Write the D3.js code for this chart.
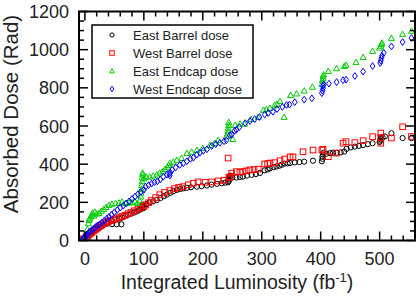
<!DOCTYPE html>
<html><head><meta charset="utf-8">
<script src="https://cdn.jsdelivr.net/npm/d3@7"></script>
<style>body{margin:0;background:#fff}svg{display:block}text{font-family:"Liberation Sans",Arial,Helvetica,sans-serif}</style>
</head><body>
<script>
// ---- data ----
const seriesNames = ["East Barrel dose","West Barrel dose","East Endcap dose","West Endcap dose"];
const xTicks = [0,100,200,300,400,500];
const yTicks = [0,200,400,600,800,1000,1200];

const eastBarrel = [[-5,0],[-3,5],[-2,10],[0,5],[1,15],[2,20],[3,12],[4,25],[6,30],[8,35],[10,38],[12,42],[15,48],[18,55],[21,60],[24,65],[27,72],[30,78],[33,84],
[38,88],[46,86],[54,85],[62,85],
[40,98],[46,104],[52,110],[58,115],[63,120],[68,128],[73,135],[78,140],[83,146],[88,152],[92,160],[96,165],[97,175],[98,182],[98,188],[100,170],[104,190],[110,200],[116,205],[122,212],[128,222],[134,232],[139,240],[145,250],[150,258],[156,265],[162,270],[167,273],[173,276],[180,279],[190,282],[198,285],[207,288],[215,293],[224,297],[232,300],[238,303],[243,305],[244,312],[245,320],[245,328],[246,335],[247,340],[250,330],[257,330],[263,333],[268,335],[275,340],[283,344],[290,348],[297,354],[305,368],[310,372],[314,378],[320,384],[325,388],[330,392],[334,397],[339,403],[344,404],[348,406],[356,409],[364,411],[372,413],[387,418],[402,415],[403,428],[403,440],[404,450],[405,460],[410,455],[416,458],[421,460],[427,460],[434,462],[440,466],[444,480],[451,488],[458,492],[465,496],[472,500],[480,505],[488,510],[500,516],[501,523],[502,530],[502,537],[505,540],[509,545],[520,562],[539,537],[554,536]];

const westBarrel = [[-5,0],[-3,8],[-2,3],[0,10],[1,5],[2,18],[3,25],[5,22],[7,30],[9,36],[12,42],[15,50],[18,58],[21,65],[24,72],[28,80],[32,88],[36,94],[40,100],[44,104],[48,108],[53,114],[58,120],[63,126],[68,132],[73,140],[78,147],[84,156],[90,165],[95,172],[100,180],[103,186],[108,198],[113,210],[120,225],[127,240],[135,252],[144,262],[152,272],[159,278],[166,282],[175,292],[184,300],[192,307],[204,305],[215,307],[226,312],[236,316],[243,432],[244,330],[246,334],[249,353],[257,361],[263,358],[268,361],[274,365],[280,370],[287,372],[294,374],[305,401],[310,403],[314,406],[322,408],[331,418],[339,427],[348,438],[353,438],[370,465],[387,474],[402,474],[404,478],[413,439],[427,458],[438,510],[443,518],[458,513],[472,523],[488,544],[502,510],[502,540],[502,563],[520,537],[539,596],[554,545]];

const eastEndcap = [[-5,0],[-3,5],[-2,10],[0,8],[1,20],[2,35],[4,60],[6,90],[7,107],[8,115],[10,125],[12,135],[13,145],[15,130],[17,150],[20,140],[24,144],[28,155],[32,165],[36,175],[41,186],[46,192],[52,196],[58,198],[63,203],[69,196],[75,198],[80,200],[85,203],[89,196],[93,210],[95,230],[95,250],[96,270],[96,290],[97,310],[97,330],[98,345],[98,355],[100,325],[104,334],[110,334],[116,340],[122,345],[127,355],[132,362],[136,375],[140,385],[142,395],[144,406],[150,412],[156,422],[164,432],[173,458],[181,465],[190,474],[200,484],[212,500],[220,511],[226,526],[240,545],[242,560],[243,575],[243,590],[244,605],[244,620],[251,531],[255,605],[263,612],[271,612],[282,636],[294,647],[303,684],[308,688],[314,694],[322,710],[326,715],[331,730],[338,647],[349,762],[359,770],[372,785],[386,805],[402,820],[403,838],[404,850],[404,862],[405,870],[413,888],[427,902],[440,914],[443,920],[460,935],[472,961],[488,993],[500,1010],[502,1020],[503,1030],[504,1036],[520,1061],[539,1082],[554,1098]];

const westEndcap = [[-5,0],[-3,10],[-2,5],[0,15],[1,25],[2,20],[3,30],[5,35],[7,42],[9,48],[12,55],[15,62],[18,70],[21,78],[25,85],[29,95],[33,105],[37,115],[41,125],[45,135],[50,148],[55,160],[60,172],[65,182],[70,194],[75,205],[80,218],[85,230],[90,243],[95,255],[100,265],[103,282],[108,290],[113,298],[118,305],[123,310],[128,320],[133,334],[139,345],[143,350],[144,340],[145,355],[148,370],[154,383],[161,396],[167,405],[173,415],[179,428],[184,434],[190,450],[195,460],[201,470],[207,478],[215,495],[222,505],[229,512],[236,520],[240,525],[246,552],[249,555],[254,575],[257,580],[262,594],[272,615],[280,626],[288,636],[296,647],[305,660],[311,668],[319,675],[326,689],[335,700],[342,710],[347,712],[356,725],[372,738],[385,745],[402,772],[403,785],[404,798],[404,810],[405,818],[414,822],[427,830],[438,840],[443,843],[458,862],[472,885],[488,914],[501,930],[502,942],[503,955],[504,968],[507,983],[520,1017],[539,1040],[554,1061]];

// ---- drawing ----
const W=416,H=296;
const L=79,R=415,T=11.5,B=240.5;
const x=d3.scaleLinear().domain([-10,560]).range([L,R]);
const y=d3.scaleLinear().domain([0,1200]).range([B,T]);
const svg=d3.select("body").append("svg").attr("width",W).attr("height",H);

svg.append("clipPath").attr("id","clip").append("rect").attr("x",L).attr("y",T).attr("width",R-L).attr("height",B-T);

const colors=["#000000","#ff0000","#00cc00","#0000ff"];
function marker(g,type,s,col){
  let p;
  if(type===0){p=g.append("circle").attr("r",2.6*s);}
  else if(type===1){const a=2.8*s;p=g.append("rect").attr("x",-a).attr("y",-a).attr("width",2*a).attr("height",2*a);}
  else if(type===2){const a=3*s;p=g.append("path").attr("d",`M0,${-a}L${a},${a*0.8}L${-a},${a*0.8}Z`);}
  else {const a=2.4*s,b=3.4*s;p=g.append("path").attr("d",`M0,${-b}L${a},0L0,${b}L${-a},0Z`);}
  p.attr("fill","none").attr("stroke",col).attr("stroke-width",1);
}
const plot=svg.append("g").attr("clip-path","url(#clip)");
[eastBarrel,westBarrel,eastEndcap,westEndcap].forEach((data,i)=>{
  const gs=plot.append("g");
  data.forEach(d=>{
    const g=gs.append("g").attr("transform",`translate(${x(d[0])},${y(d[1])})`);
    marker(g,i,1,colors[i]);
  });
});

// ticks
const tk=svg.append("g").attr("stroke","#000").attr("stroke-width",1.5);
d3.range(0,561,20).forEach(v=>{
  const len=(v%100===0)?9:5;
  tk.append("line").attr("x1",x(v)).attr("x2",x(v)).attr("y1",B).attr("y2",B-len);
  tk.append("line").attr("x1",x(v)).attr("x2",x(v)).attr("y1",T).attr("y2",T+len);
});
d3.range(0,1201,50).forEach(v=>{
  const len=(v%200===0)?9:5;
  tk.append("line").attr("y1",y(v)).attr("y2",y(v)).attr("x1",L).attr("x2",L+len);
  tk.append("line").attr("y1",y(v)).attr("y2",y(v)).attr("x1",R).attr("x2",R-len);
});
svg.append("rect").attr("x",L).attr("y",T).attr("width",R-L).attr("height",B-T).attr("fill","none").attr("stroke","#000").attr("stroke-width",2);

// tick labels
const lab=svg.append("g").attr("font-size",18).attr("fill","#222");
xTicks.forEach(v=>lab.append("text").attr("x",x(v)).attr("y",265).attr("text-anchor","middle").text(v));
yTicks.forEach(v=>lab.append("text").attr("x",69).attr("y",y(v)+6.5).attr("text-anchor","end").text(v));

// axis titles
const xt=svg.append("text").attr("x",237).attr("y",289).attr("text-anchor","middle").attr("font-size",19.5).attr("fill","#222");
xt.append("tspan").text("Integrated Luminosity (fb");
xt.append("tspan").attr("font-size",13).attr("dy",-7).text("-1");
xt.append("tspan").attr("dy",7).text(")");
svg.append("text").attr("transform","translate(18,114) rotate(-90)").attr("text-anchor","middle").attr("font-size",20.5).attr("fill","#222").text("Absorbed Dose (Rad)");

// legend
const lg=svg.append("g");
lg.append("rect").attr("x",92).attr("y",25).attr("width",161).attr("height",73).attr("fill","#fff").attr("stroke","#000").attr("stroke-width",1.5);
seriesNames.forEach((n,i)=>{
  const cy=35+i*18;
  const g=lg.append("g").attr("transform",`translate(112,${cy})`);
  marker(g,i,0.8,colors[i]);
  lg.append("text").attr("x",133).attr("y",cy+4.5).attr("font-size",13).attr("fill","#222").text(n);
});
</script>
</body></html>
